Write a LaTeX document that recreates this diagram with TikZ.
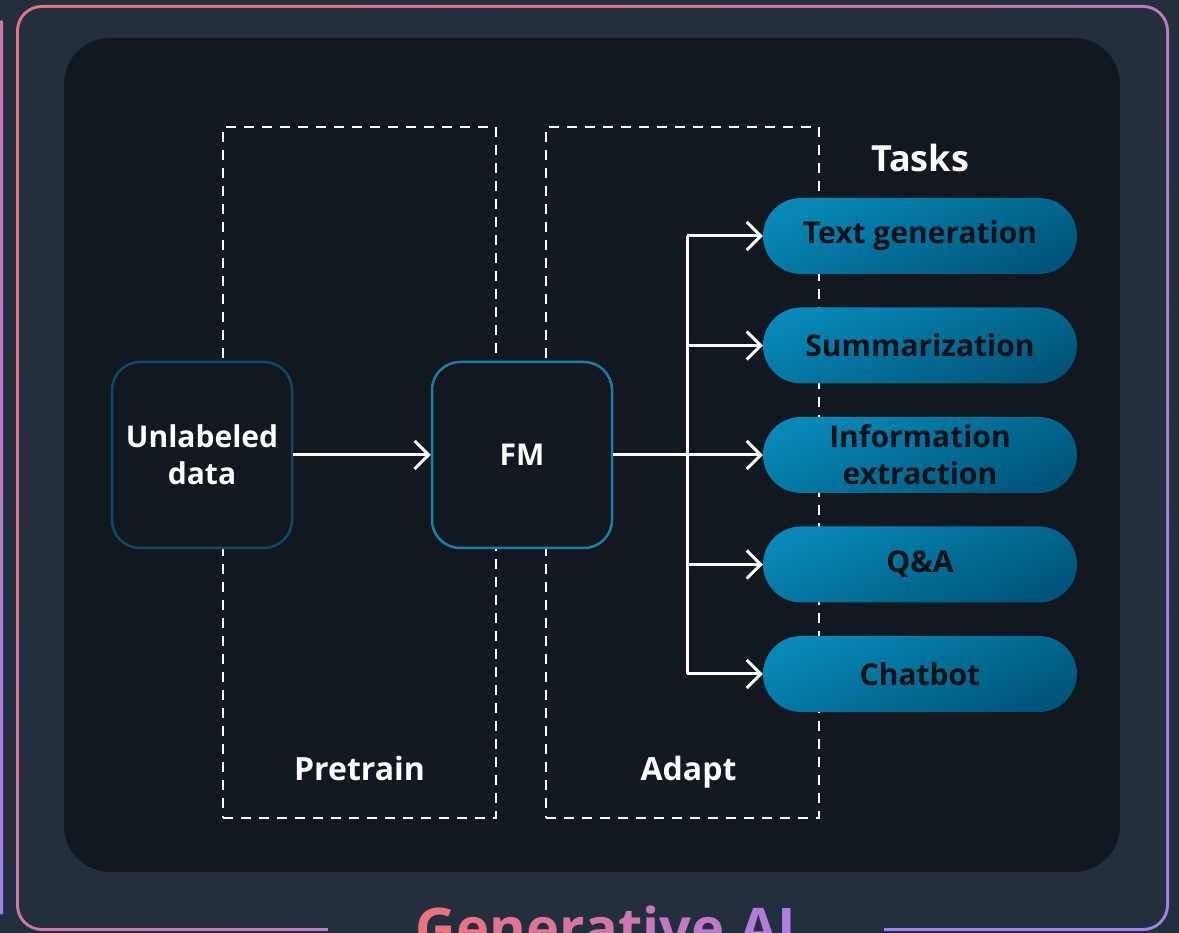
\documentclass[tikz,border=0pt]{standalone}
\usepackage{fontspec}
\setmainfont{Open Sans}
\usetikzlibrary{positioning, arrows.meta}

\definecolor{squid}{HTML}{232F3E}
\definecolor{night}{HTML}{12181F}
\definecolor{rosy}{HTML}{EC727C}
\definecolor{lilac}{HTML}{A77EEA}
\definecolor{pillA}{HTML}{0788B6}
\definecolor{pillB}{HTML}{00567A}
\definecolor{ink}{HTML}{0E131A}
\definecolor{deepblue}{HTML}{0B4A6A}
\definecolor{fmblue}{HTML}{1A7FA8}

\begin{document}
\begin{tikzpicture} [x=1pt, y=1pt,
            node distance = 109.5pt,
            on grid,
            font = \bfseries\fontsize{30}{37}\selectfont,
            phase/.style = {draw=white, line width=2pt,
                dash pattern=on 10pt off 8pt,
                minimum width=273pt, minimum height=691pt},
            block/.style = {rounded corners=28pt, line width=2.5pt,
                fill=night, text=white, align=center,
                minimum width=180pt, minimum height=186pt},
            task/.style = {rounded corners=38pt,
                top color=pillA, bottom color=pillB, shading angle=25,
                text=ink, align=center,
                minimum width=314pt, minimum height=76pt},
            heading/.style = {text=white,
                font=\bfseries\fontsize{32}{36}\selectfont},
            link/.style = {draw=white, line width=3pt,
                -{Straight Barb[length=14pt, width=28pt, line width=3pt]}}]

        \useasboundingbox (0,0) rectangle (1179,933);
        \fill[squid] (0,0) rectangle (1179,933);

        % Frame
        \shade[top color=rosy, bottom color=lilac, shading angle=45,
            rounded corners=26pt] (16,2) rectangle (1169,928);
        \fill[squid, rounded corners=23pt] (19,5) rectangle (1166,925);
        \shade[top color=rosy!60!lilac, bottom color=lilac,
            rounded corners=1.5pt] (0,18) rectangle (3,913);

        % Panel
        \fill[night, rounded corners=46pt] (64,61) rectangle (1120,895);

        % Phases
        \node (pretrain) [phase] at (359.5,460.5) {};
        \node (adapt) [phase, right = 323pt of pretrain] {};
        \node (pretrainlabel) [heading,
            above = 38pt of pretrain.south, anchor=base] {Pretrain};
        \node (adaptlabel) [heading, xshift=6pt,
            above = 38pt of adapt.south, anchor=base] {Adapt};

        % Blocks
        \node (data) [block, draw=deepblue] at (202,478) {Unlabeled\\data};
        \node (fm) [block, draw=fmblue, right = 320pt of data] {FM};

        % Tasks
        \node (t1) [task] at (920,697) {Text generation};
        \node (t2) [task, below = of t1] {Summarization};
        \node (t3) [task, below = of t2] {Information\\extraction};
        \node (t4) [task, below = of t3] {Q\&A};
        \node (t5) [task, below = of t4] {Chatbot};
        \node (tasks) [heading, font=\bfseries\fontsize{36}{40}\selectfont,
            above = 64pt of t1, anchor=base] {Tasks};

        % Arrows
        \coordinate (fork) at (687,478);
        \draw[link] (data) -- (fm);
        \draw[white, line width=3pt] (fm.east) -- (fork);
        \draw[white, line width=3pt] (fork |- t1.west) -- (fork |- t5.west);
        \foreach \t in {t1,t2,t3,t4,t5}
            \draw[link] (fork |- \t.west) -- (\t.west);

        % Title
        \node (title) [fill=squid, anchor=north, inner xsep=88pt,
            font=\bfseries\fontsize{56}{60}\selectfont] at (606,31)
            {\textcolor{rosy}{G}\textcolor{rosy!92!lilac}{e}\textcolor{rosy!84!lilac}{n}%
             \textcolor{rosy!76!lilac}{e}\textcolor{rosy!68!lilac}{r}\textcolor{rosy!60!lilac}{a}%
             \textcolor{rosy!52!lilac}{t}\textcolor{rosy!45!lilac}{i}\textcolor{rosy!38!lilac}{v}%
             \textcolor{rosy!30!lilac}{e} \textcolor{rosy!18!lilac}{A}\textcolor{rosy!10!lilac}{I}};
\end{tikzpicture}
\end{document}
